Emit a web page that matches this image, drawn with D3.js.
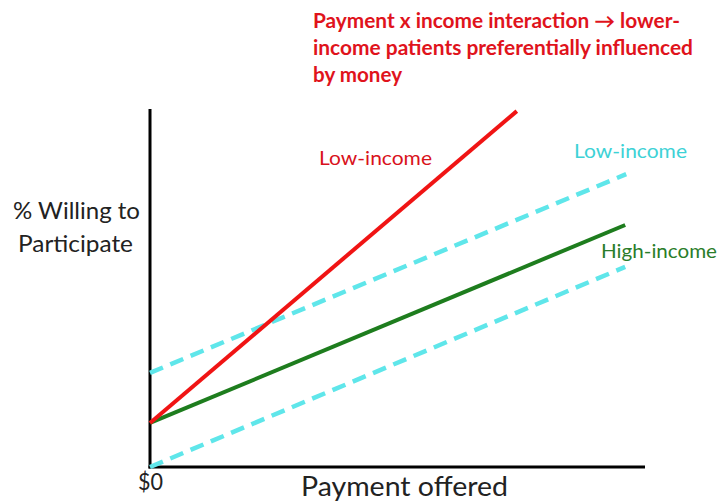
<!DOCTYPE html>
<html>
<head>
<meta charset="utf-8">
<script src="https://cdn.jsdelivr.net/npm/d3@7"></script>
<style>
  body { margin: 0; background: #fff; }
  svg { display: block; font-family: Lato, "Open Sans", sans-serif; }
</style>
</head>
<body>
<svg id="chart" width="720" height="501"></svg>
<script>
// Payment offered (arbitrary units, $0 at origin) and % willing, per line
var lowIncomeRed   = [[0, 12.3], [74.1, 99.4]];
var highIncome     = [[0, 12.3], [96.0, 67.6]];
var lowIncomeUpper = [[0, 26.3], [96.2, 81.8]];
var lowIncomeLower = [[0, 0.0],  [96.0, 55.9]];

// Text
var titleLines = ["Payment x income interaction \u2192 lower-",
                  "income patients preferentially influenced",
                  "by money"];
var yLabelLines = ["% Willing to", "Participate"];
var xLabel = "Payment offered";
var xTickLabel = "$0";

var svg = d3.select('#chart');

// Scales (data space 0..100 on both axes)
var x = d3.scaleLinear().domain([0, 100]).range([150, 645]);
var y = d3.scaleLinear().domain([0, 100]).range([467, 109]);

var line = d3.line()
    .x(function(d) { return x(d[0]); })
    .y(function(d) { return y(d[1]); });

/*****************************/
// Axes
/*****************************/
svg.append('line')
    .attr('x1', x(0)).attr('x2', x(0))
    .attr('y1', y(0) + 1.5).attr('y2', y(100))
    .attr('stroke', '#000').attr('stroke-width', 3);

svg.append('line')
    .attr('x1', x(0) - 1.5).attr('x2', x(100))
    .attr('y1', y(0)).attr('y2', y(0))
    .attr('stroke', '#000').attr('stroke-width', 3);

/*****************************/
// Lines
/*****************************/
var dashed = [lowIncomeUpper, lowIncomeLower];
svg.selectAll('.dash-line')
    .data(dashed)
  .enter().append('path')
    .attr('class', 'dash-line')
    .attr('d', line)
    .attr('fill', 'none')
    .attr('stroke', '#5fe6ea')
    .attr('stroke-width', 4.5)
    .attr('stroke-dasharray', '14,8');

svg.append('path')
    .datum(highIncome)
    .attr('d', line)
    .attr('fill', 'none')
    .attr('stroke', '#1e7d1e')
    .attr('stroke-width', 4);

svg.append('path')
    .datum(lowIncomeRed)
    .attr('d', line)
    .attr('fill', 'none')
    .attr('stroke', '#f01414')
    .attr('stroke-width', 4);

/*****************************/
// Labels
/*****************************/
function addText(txt, px, py, size, color, len, weight) {
    return svg.append('text')
        .attr('x', px).attr('y', py)
        .attr('font-size', size)
        .attr('font-weight', weight || 'normal')
        .attr('fill', color)
        .attr('textLength', len)
        .attr('lengthAdjust', 'spacingAndGlyphs')
        .text(txt);
}

// Title
var titleLens = [367, 380, 89];
titleLines.forEach(function(t, i) {
    addText(t, 313, 28 + i * 27, 20, '#e0131c', titleLens[i], 'bold');
});

// Series labels
addText('Low-income', 319, 165, 20, '#d9121c', 113, 'normal');
addText('Low-income', 574, 158, 20, '#3ed2d6', 113, 'normal');
addText('High-income', 601, 258, 20, '#2a7d2a', 116, 'normal');

// Axis labels
addText(yLabelLines[0], 13, 219, 23, '#222', 127, 'normal');
addText(yLabelLines[1], 18, 252, 23, '#222', 115, 'normal');
addText(xLabel, 301, 496, 27, '#222', 207, 'normal');
addText(xTickLabel, 138, 490, 23, '#222', 25, 'normal');
</script>
</body>
</html>
